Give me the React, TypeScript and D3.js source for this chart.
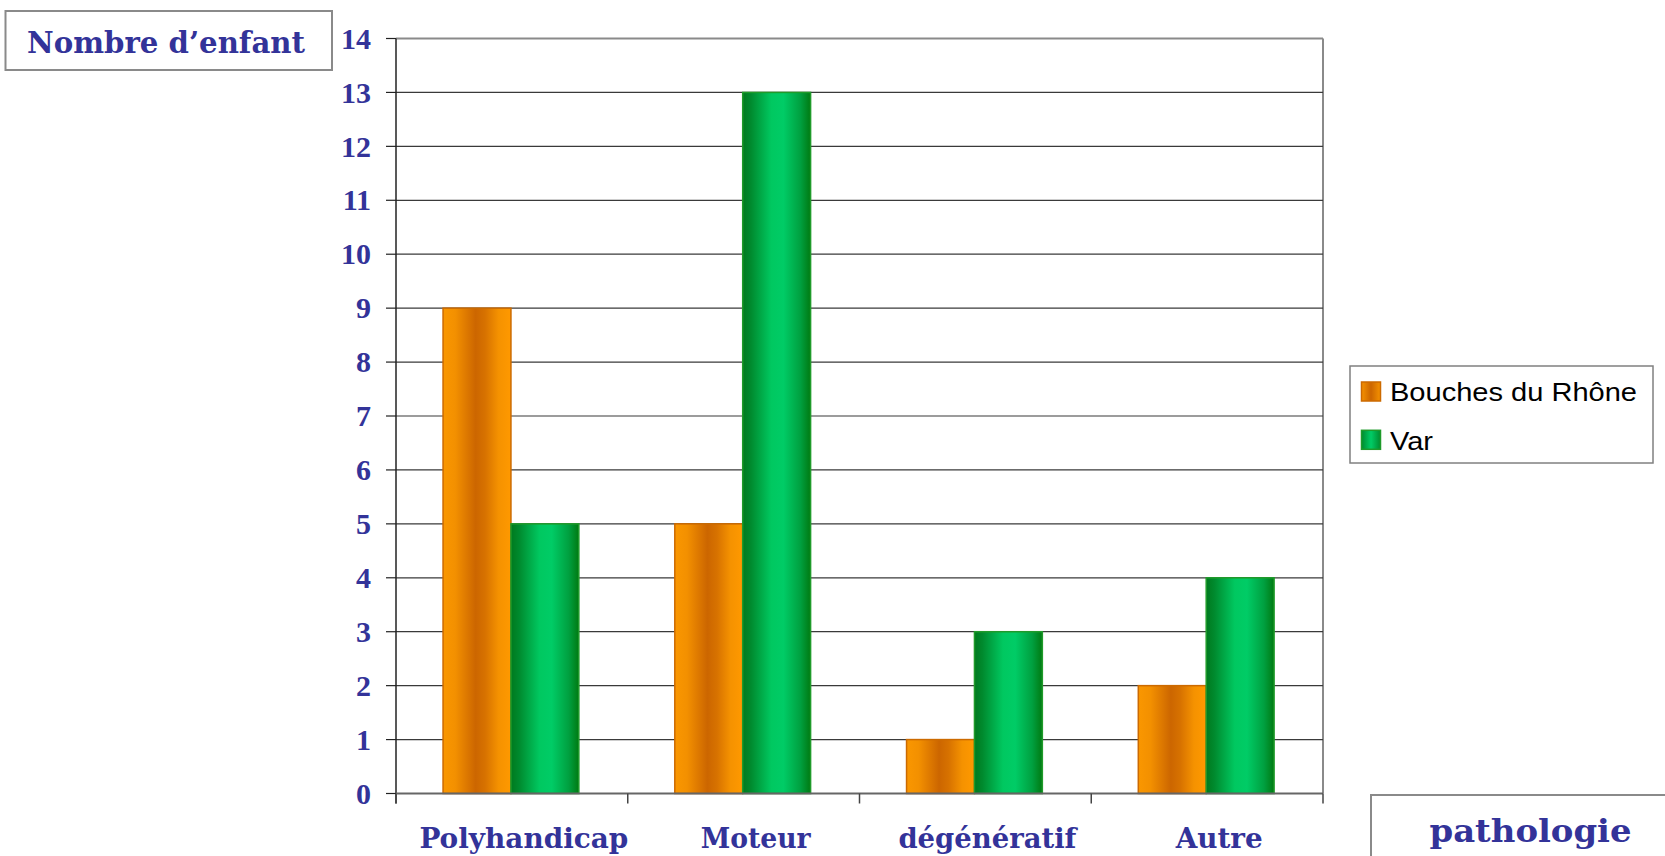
import React from "react";
import * as d3 from "d3";

const categories = ["Polyhandicap", "Moteur", "dégénératif", "Autre"];
const seriesNames = ["Bouches du Rhône", "Var"];
const bouchesDuRhone = [9, 5, 1, 2];
const varValues = [5, 13, 3, 4];
const yTicks = d3.range(0, 15);
const yTitle = "Nombre d\u2019enfant";
const xTitle = "pathologie";

const W = 1665;
const H = 856;
const PL = 396, PR = 1323, PT = 38.5, PB = 793.5;
const labelColor = "#333399";
const serif = "'DejaVu Serif', serif";

export default function App() {
  const x = d3.scaleBand<string>().domain(categories).range([PL, PR]).padding(0);
  const bw = x.bandwidth();
  const inner = d3.scaleBand<string>().domain(seriesNames).range([bw * 0.203, bw * 0.789]).padding(0);
  const y = d3.scaleLinear().domain([0, 14]).range([PB, PT]);
  const data = [bouchesDuRhone, varValues];
  const grads = ["gOrange", "gGreen"];
  const strokes = ["#CC6a00", "#1f9a2a"];
  const edges = [...categories.map((c) => x(c)!), PR];
  const xLabelWidths = [209, 110, 178, 87];

  return (
    <div style={{ position: "fixed", left: 0, top: 0, width: W, height: H, background: "#fff" }}>
      <svg width={W} height={H} style={{ display: "block" }}>
        <defs>
          <linearGradient id="gOrange" x1="0" x2="1" y1="0" y2="0">
            <stop offset="0%" stopColor="#FA9700" />
            <stop offset="18%" stopColor="#F39000" />
            <stop offset="48%" stopColor="#CC6600" />
            <stop offset="62%" stopColor="#D77200" />
            <stop offset="82%" stopColor="#F59200" />
            <stop offset="100%" stopColor="#FF9900" />
          </linearGradient>
          <linearGradient id="gGreen" x1="0" x2="1" y1="0" y2="0">
            <stop offset="0%" stopColor="#007A1E" />
            <stop offset="12%" stopColor="#008A2E" />
            <stop offset="42%" stopColor="#00C860" />
            <stop offset="60%" stopColor="#00CC66" />
            <stop offset="85%" stopColor="#00A040" />
            <stop offset="100%" stopColor="#007A12" />
          </linearGradient>
          <linearGradient id="lgOrange" x1="0" x2="1" y1="0" y2="0">
            <stop offset="0%" stopColor="#F59200" />
            <stop offset="50%" stopColor="#CC6600" />
            <stop offset="100%" stopColor="#F59200" />
          </linearGradient>
          <linearGradient id="lgGreen" x1="0" x2="1" y1="0" y2="0">
            <stop offset="0%" stopColor="#008A2E" />
            <stop offset="50%" stopColor="#00CC66" />
            <stop offset="100%" stopColor="#008A2E" />
          </linearGradient>
        </defs>

        {/* plot frame top & right */}
        <line x1={PL} x2={PR} y1={y(14)} y2={y(14)} stroke="#8a8a8a" strokeWidth={2} />
        <line x1={PR} x2={PR} y1={y(14)} y2={PB} stroke="#8a8a8a" strokeWidth={2} />

        {/* gridlines */}
        {yTicks.filter((t) => t > 0 && t < 14).map((t) => (
          <line key={t} x1={PL} x2={PR} y1={y(t)} y2={y(t)} stroke="#3a3a3a" strokeWidth={1.2} />
        ))}

        {/* y ticks */}
        {yTicks.map((t) => (
          <line key={"yt" + t} x1={PL - 10} x2={PL} y1={y(t)} y2={y(t)} stroke="#222" strokeWidth={1.2} />
        ))}

        {/* bars */}
        {categories.map((c, i) =>
          seriesNames.map((s, j) => {
            const bx = x(c)! + inner(s)!;
            const by = y(data[j][i]);
            return (
              <rect
                key={c + s}
                x={bx}
                y={by}
                width={inner.bandwidth()}
                height={PB - by}
                fill={`url(#${grads[j]})`}
                stroke={strokes[j]}
                strokeWidth={1.5}
              />
            );
          })
        )}

        {/* axes */}
        <line x1={PL} x2={PL} y1={PT} y2={PB + 10} stroke="#222" strokeWidth={1.5} />
        <line x1={PL} x2={PR} y1={PB} y2={PB} stroke="#666" strokeWidth={2} />
        {edges.map((e, i) => (
          <line key={"xt" + i} x1={e} x2={e} y1={PB} y2={PB + 10} stroke="#444" strokeWidth={1.5} />
        ))}

        {/* y labels */}
        {yTicks.map((t) => (
          <text
            key={"yl" + t}
            x={371}
            y={y(t)}
            dy="0.34em"
            textAnchor="end"
            fontFamily="'Liberation Serif', serif"
            fontWeight="bold"
            fontSize={30}
            fill={labelColor}
          >
            {t}
          </text>
        ))}

        {/* x labels */}
        {categories.map((c, i) => (
          <text
            key={"xl" + c}
            x={x(c)! + bw / 2 + 12}
            y={848}
            textAnchor="middle"
            fontFamily={serif}
            fontWeight="bold"
            fontSize={28}
            fill={labelColor}
            textLength={xLabelWidths[i]}
            lengthAdjust="spacingAndGlyphs"
          >
            {c}
          </text>
        ))}

        {/* y title box */}
        <rect x={5.5} y={11} width={326.5} height={59} fill="#fff" stroke="#8a8a8a" strokeWidth={2} />
        <text
          x={166}
          y={53}
          textAnchor="middle"
          fontFamily={serif}
          fontWeight="bold"
          fontSize={30}
          fill={labelColor}
          textLength={278}
          lengthAdjust="spacingAndGlyphs"
        >
          {yTitle}
        </text>

        {/* x title box */}
        <rect x={1371} y={795} width={320} height={100} fill="#fff" stroke="#8a8a8a" strokeWidth={2} />
        <text
          x={1530.5}
          y={842}
          textAnchor="middle"
          fontFamily={serif}
          fontWeight="bold"
          fontSize={32}
          fill={labelColor}
          textLength={202}
          lengthAdjust="spacingAndGlyphs"
        >
          {xTitle}
        </text>

        {/* legend */}
        <rect x={1350} y={366} width={303} height={97} fill="#fff" stroke="#808080" strokeWidth={1.5} />
        {seriesNames.map((s, j) => (
          <g key={"lg" + s}>
            <rect
              x={1361.5}
              y={382 + j * 48.3}
              width={19}
              height={19}
              fill={j === 0 ? "url(#lgOrange)" : "url(#lgGreen)"}
              stroke={strokes[j]}
              strokeWidth={1.5}
            />
            <text
              x={1390}
              y={401 + j * 48.5}
              fontFamily="'Liberation Sans', Arial, sans-serif"
              fontSize={26}
              fill="#000"
              textLength={j === 0 ? 247 : 43}
              lengthAdjust="spacingAndGlyphs"
            >
              {s}
            </text>
          </g>
        ))}
      </svg>
    </div>
  );
}
